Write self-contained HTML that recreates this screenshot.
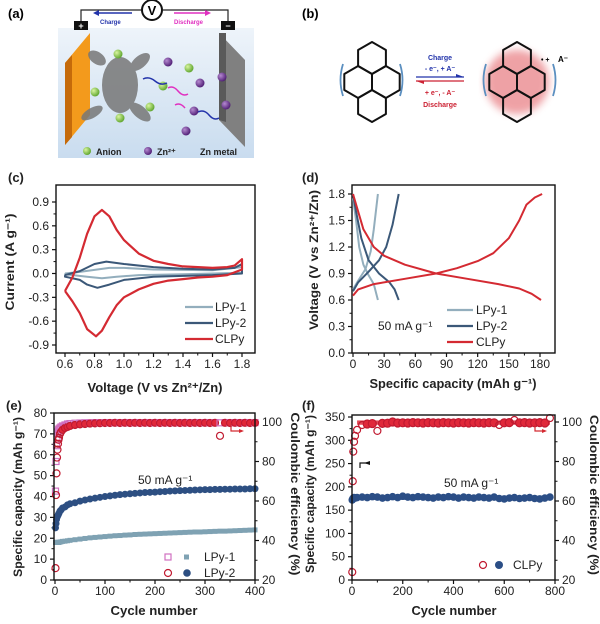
<!DOCTYPE html>
<html><head><meta charset="utf-8">
<style>
html,body{margin:0;padding:0;background:#fff;}
svg{display:block;font-family:"Liberation Sans",Arial,sans-serif;}
</style></head>
<body>
<svg id="fig" width="600" height="624" viewBox="0 0 600 624" xmlns="http://www.w3.org/2000/svg">
<defs>
<linearGradient id="bg" x1="0" y1="0" x2="0" y2="1"><stop offset="0" stop-color="#eef4fa"/><stop offset="1" stop-color="#c9dcef"/></linearGradient>
<radialGradient id="gball" cx="0.35" cy="0.35" r="0.7"><stop offset="0" stop-color="#d9f5a0"/><stop offset="1" stop-color="#5aa22a"/></radialGradient>
<radialGradient id="pball" cx="0.35" cy="0.35" r="0.7"><stop offset="0" stop-color="#b58ad0"/><stop offset="1" stop-color="#4c1a72"/></radialGradient>
<filter id="glow"><feGaussianBlur stdDeviation="4"/></filter>
</defs>

<!-- Panel (a) -->
<g>
<text x="8" y="18" font-size="13" font-weight="bold">(a)</text>
<rect x="58" y="28" width="196" height="130" fill="url(#bg)"/>
<polyline points="81,23 81,10 141,10" fill="none" stroke="#222" stroke-width="1.2"/>
<polyline points="163,10 228,10 228,23" fill="none" stroke="#222" stroke-width="1.2"/>
<circle cx="152" cy="10" r="10" fill="#fff" stroke="#111" stroke-width="2"/>
<text x="152" y="15" font-size="13" font-weight="bold" text-anchor="middle">V</text>
<rect x="74" y="21" width="14" height="9" fill="#111"/>
<text x="81" y="29" font-size="9" fill="#fff" text-anchor="middle" font-weight="bold">+</text>
<rect x="221" y="21" width="14" height="9" fill="#111"/>
<text x="228" y="29" font-size="9" fill="#fff" text-anchor="middle" font-weight="bold">−</text>
<line x1="132" y1="13" x2="96" y2="13" stroke="#2233aa" stroke-width="1.5"/><polygon points="93,13 99,10 99,16" fill="#2233aa"/>
<text x="100" y="24" font-size="6" fill="#2233aa" font-weight="bold">Charge</text>
<line x1="174" y1="13" x2="208" y2="13" stroke="#e030c0" stroke-width="1.5"/><polygon points="211,13 205,10 205,16" fill="#e030c0"/>
<text x="174" y="24" font-size="6" fill="#e030c0" font-weight="bold">Discharge</text>
<polygon points="65,63 90,33 90,115 65,145" fill="#f39a1c"/>
<polygon points="65,63 72,55 72,137 65,145" fill="#c56a0a"/>
<polygon points="219,33 245,60 245,147 219,120" fill="#808080"/>
<polygon points="219,33 226,33 226,122 219,120" fill="#5a5a5a"/>
<g fill="#777" opacity="0.85">
<ellipse cx="120" cy="85" rx="18" ry="28"/><ellipse cx="97" cy="58" rx="10" ry="6" transform="rotate(35 97 58)"/>
<ellipse cx="140" cy="62" rx="12" ry="6" transform="rotate(-40 140 62)"/><ellipse cx="92" cy="113" rx="12" ry="5" transform="rotate(-30 92 113)"/>
<ellipse cx="140" cy="112" rx="13" ry="6" transform="rotate(40 140 112)"/>
</g>
<g>
<circle cx="118" cy="54" r="4.5" fill="url(#gball)"/><circle cx="95" cy="92" r="4.5" fill="url(#gball)"/><circle cx="163" cy="86" r="4.5" fill="url(#gball)"/>
<circle cx="150" cy="107" r="4.5" fill="url(#gball)"/><circle cx="120" cy="118" r="4.5" fill="url(#gball)"/><circle cx="189" cy="68" r="4.5" fill="url(#gball)"/>
<circle cx="168" cy="62" r="4.5" fill="url(#pball)"/><circle cx="200" cy="83" r="4.5" fill="url(#pball)"/><circle cx="194" cy="111" r="4.5" fill="url(#pball)"/>
<circle cx="186" cy="131" r="4.5" fill="url(#pball)"/><circle cx="222" cy="77" r="4.5" fill="url(#pball)"/><circle cx="226" cy="105" r="4.5" fill="url(#pball)"/>
</g>
<path d="M143,79 q6,-3 12,2 t12,2" fill="none" stroke="#2233aa" stroke-width="1.5"/>
<path d="M168,88 q5,-3 10,3 t10,3" fill="none" stroke="#e030c0" stroke-width="1.5"/>
<path d="M175,105 q5,-3 10,3" fill="none" stroke="#e030c0" stroke-width="1.5"/>
<path d="M198,112 q6,-3 11,3 t10,3" fill="none" stroke="#2233aa" stroke-width="1.5"/>
<circle cx="87" cy="151" r="4" fill="url(#gball)"/><text x="96" y="155" font-size="9" font-weight="bold" fill="#222">Anion</text>
<circle cx="148" cy="151" r="4" fill="url(#pball)"/><text x="157" y="155" font-size="9" font-weight="bold" fill="#222">Zn²⁺</text>
<text x="200" y="155" font-size="9" font-weight="bold" fill="#222">Zn metal</text>
</g>

<!-- Panel (b) -->
<g>
<text x="302" y="18" font-size="13" font-weight="bold">(b)</text>
<circle cx="517" cy="82" r="32" fill="#e87a80" opacity="0.7" filter="url(#glow)"/>
<g id="pyrL"></g>
<g id="pyrR"></g>
<g fill="none" stroke="#5b8fc0" stroke-width="1.8">
<path d="M343,64 q-5,16 0,32"/><path d="M400,64 q5,16 0,32"/><path d="M486,64 q-5,16 0,32"/><path d="M553,64 q5,16 0,32"/>
</g>
<text x="541" y="62" font-size="7" font-weight="bold">• +</text>
<text x="558" y="62" font-size="8" font-weight="bold">A⁻</text>
<text x="440" y="60" font-size="7" font-weight="bold" fill="#2233aa" text-anchor="middle">Charge</text>
<text x="440" y="71" font-size="7" font-weight="bold" fill="#2233aa" text-anchor="middle">- e⁻,  + A⁻</text>
<line x1="416" y1="77" x2="464" y2="77" stroke="#2233aa" stroke-width="1.3"/><polygon points="464,77 456,74 456,77" fill="#2233aa"/>
<line x1="416" y1="81" x2="464" y2="81" stroke="#cc2233" stroke-width="1.3"/><polygon points="416,81 424,84 424,81" fill="#cc2233"/>
<text x="440" y="95" font-size="7" font-weight="bold" fill="#cc2233" text-anchor="middle">+ e⁻, - A⁻</text>
<text x="440" y="107" font-size="7" font-weight="bold" fill="#cc2233" text-anchor="middle">Discharge</text>
</g>

<g id="charts"></g>
</svg>
<script>
// ---------- DATA ----------
const cvV_CLPy = [0.6,0.65,0.7,0.75,0.8,0.85,0.9,0.95,1.0,1.1,1.2,1.3,1.4,1.5,1.6,1.7,1.75,1.8,1.8,1.7,1.6,1.5,1.4,1.3,1.2,1.1,1.0,0.95,0.9,0.85,0.81,0.75,0.7,0.65,0.6];
const cvI_CLPy = [-0.22,-0.05,0.2,0.5,0.72,0.8,0.72,0.55,0.42,0.25,0.16,0.12,0.09,0.08,0.07,0.08,0.1,0.18,0.05,-0.02,-0.04,-0.05,-0.07,-0.09,-0.13,-0.2,-0.3,-0.4,-0.55,-0.72,-0.79,-0.7,-0.5,-0.35,-0.22];
const cvV_LPy2 = [0.6,0.7,0.8,0.88,1.0,1.2,1.4,1.6,1.75,1.8,1.8,1.6,1.4,1.2,1.0,0.9,0.82,0.75,0.7,0.6,0.6];
const cvI_LPy2 = [-0.02,0.03,0.12,0.15,0.12,0.08,0.06,0.05,0.07,0.12,0.0,-0.02,-0.03,-0.04,-0.08,-0.14,-0.18,-0.14,-0.08,-0.04,-0.02];
const cvV_LPy1 = [0.6,0.7,0.9,1.0,1.2,1.6,1.8,1.8,1.4,1.1,0.95,0.85,0.75,0.6,0.6];
const cvI_LPy1 = [0.0,0.02,0.07,0.07,0.05,0.04,0.08,0.01,-0.01,-0.02,-0.04,-0.06,-0.04,-0.01,0.0];
const cvXTicks = [0.6,0.8,1.0,1.2,1.4,1.6,1.8];
const cvYTicks = [-0.9,-0.6,-0.3,0.0,0.3,0.6,0.9];

const gcdChgCap_CLPy = [0,5,20,50,80,100,120,135,150,160,167,175,182];
const gcdChgV_CLPy = [0.65,0.72,0.78,0.84,0.9,0.96,1.04,1.13,1.3,1.5,1.68,1.76,1.8];
const gcdDisCap_CLPy = [0,5,10,20,30,50,80,110,140,160,172,181];
const gcdDisV_CLPy = [1.8,1.6,1.4,1.2,1.1,1.0,0.9,0.84,0.78,0.73,0.67,0.6];
const gcdChgCap_LPy2 = [0,5,15,25,32,38,44];
const gcdChgV_LPy2 = [0.7,0.8,0.92,1.05,1.2,1.45,1.8];
const gcdDisCap_LPy2 = [0,3,8,15,25,35,40,44];
const gcdDisV_LPy2 = [1.8,1.6,1.3,1.05,0.9,0.8,0.72,0.6];
const gcdChgCap_LPy1 = [0,5,12,17,20,24];
const gcdChgV_LPy1 = [0.72,0.82,0.95,1.15,1.4,1.8];
const gcdDisCap_LPy1 = [0,3,6,10,15,20,24];
const gcdDisV_LPy1 = [1.75,1.5,1.2,1.0,0.88,0.78,0.6];
const gcdXTicks = [0,30,60,90,120,150,180];
const gcdYTicks = [0.0,0.3,0.6,0.9,1.2,1.5,1.8];

const eCycles = [1,2,3,4,5,6,7,8,10,12,15,20,25,30,40,50,60,70,80,90,100,110,120,130,140,150,160,170,180,190,200,210,220,230,240,250,260,270,280,290,300,310,320,330,340,350,360,370,380,390,400];
const eCapLPy2 = [25,27,29,30,30.5,31,31.5,32,33,33.5,34.5,35,36,36.5,37,37.8,38.3,38.8,39.2,39.6,40,40.3,40.6,40.9,41.1,41.3,41.5,41.7,41.9,42,42.1,42.3,42.4,42.6,42.7,42.8,42.9,43,43.1,43.2,43.3,43.3,43.4,43.4,43.5,43.5,43.6,43.6,43.6,43.7,43.7];
const eCapLPy1 = [18,18,18,18,18,18,18,18,18.2,18.3,18.5,18.6,18.8,19,19.3,19.6,19.9,20.2,20.4,20.6,20.8,21,21.2,21.3,21.5,21.6,21.8,21.9,22,22.1,22.2,22.3,22.4,22.5,22.6,22.7,22.8,22.9,23,23,23.1,23.2,23.3,23.4,23.4,23.5,23.6,23.7,23.8,23.9,24];
const eCELPy2 = [26,63,74,82,86,89,91,92,94,95,96,97,97.5,98,98.5,98.8,99,99.2,99.3,99.4,99.5,99.5,99.6,99.5,99.6,99.5,99.6,99.5,99.6,99.5,99.6,99.5,99.6,99.5,99.6,99.5,99.6,99.5,99.6,99.5,99.6,99.5,99.6,93,99.6,99.5,99.6,99.5,99.6,99.5,99.6];
const eCELPy1 = [65,80,88,92,94,95,96,96.5,97,97.5,98,98.5,99,99.2,99.4,99.5,99.6,99.6,99.7,99.6,99.7,99.6,99.7,99.6,99.7,99.6,99.7,99.6,99.7,99.6,99.7,99.6,99.7,99.6,99.7,99.6,99.7,99.6,99.7,99.6,99.7,99.6,99.7,99.6,99.7,99.6,99.7,99.6,99.7,99.6,99.7];
const eXTicks = [0,100,200,300,400];
const eYTicks = [0,10,20,30,40,50,60,70,80];
const eY2Ticks = [20,40,60,80,100];

const fCycles = [1,3,5,8,12,20,40,60,80,100,120,140,160,180,200,220,240,260,280,300,320,340,360,380,400,420,440,460,480,500,520,540,560,580,600,620,640,660,680,700,720,740,760,780];
const fCap = [172,174,176,177,176,177,178,177,179,178,176,177,179,177,180,178,177,179,178,177,176,178,177,179,178,176,178,177,176,178,177,176,178,175,174,176,177,175,176,177,175,174,176,178];
const fCE = [24,70,85,90,93,96,98.5,99,99.2,95.5,99.3,99.4,100,99.5,99.6,99.5,99.7,99.6,99.5,99.7,99.6,99.5,99.7,99.6,99.5,99.7,99.6,99.5,99.7,99.6,99.5,99.7,99.6,98.5,99.6,99.7,101,99.6,99.7,99.5,99.6,99.7,99.5,102];
const fXTicks = [0,200,400,600,800];
const fYTicks = [0,50,100,150,200,250,300,350];
const fY2Ticks = [20,40,60,80,100];

// ---------- HELPERS ----------
const NS = 'http://www.w3.org/2000/svg';
const root = document.getElementById('charts');
function mk(tag, attrs, parent){const e=document.createElementNS(NS,tag);for(const k in attrs)e.setAttribute(k,attrs[k]);(parent||root).appendChild(e);return e;}
function scale(d0,d1,r0,r1){return v=>r0+(v-d0)*(r1-r0)/(d1-d0);}
function txt(x,y,s,size,anchor,parent,extra){const t=mk('text',Object.assign({x:x,y:y,'font-size':size,'text-anchor':anchor||'start','font-weight':'bold',fill:'#222'},extra||{}),parent);t.textContent=s;return t;}

function frame(g,L,T,R,B){
  const r=mk('rect',{x:L,y:T,width:R-L,height:B-T,fill:'none',stroke:'#111','stroke-width':1.4},g);
  
  
}
function xAxis(g,xs,ticks,B,fmt,minor){
  ticks.forEach((t,i)=>{const x=xs(t);
    mk('line',{x1:x,y1:B,x2:x,y2:B+4,stroke:'#111','stroke-width':1.2},g);
    const l=txt(x,B+15,fmt(t),12,'middle',g,{'font-weight':'normal'});
    
    
    if(minor&&i<ticks.length-1){const m=xs((t+ticks[i+1])/2);mk('line',{x1:m,y1:B,x2:m,y2:B+2.5,stroke:'#111','stroke-width':1},g);}
  });
}
function yAxis(g,ys,ticks,L,fmt,right){
  ticks.forEach((t,i)=>{const y=ys(t);const d=right?1:-1;
    mk('line',{x1:L,y1:y,x2:L+4*d,y2:y,stroke:'#111','stroke-width':1.2},g);
    const l=txt(L+7*d,y+4,fmt(t),12,right?'start':'end',g,{'font-weight':'normal'});
    
    
    if(i<ticks.length-1){const m=ys((t+ticks[i+1])/2);mk('line',{x1:L,y1:m,x2:L+2.5*d,y2:m,stroke:'#111','stroke-width':1},g);}
  });
}
function line(g,xs,ys,X,Y,color,w){
  const pts=X.map((v,i)=>xs(v).toFixed(1)+','+ys(Y[i]).toFixed(1)).join(' ');
  return mk('polyline',{points:pts,fill:'none',stroke:color,'stroke-width':w||2,'stroke-linejoin':'round'},g);
}
function rotTitle(g,x,y,s,deg,len){
  const t=txt(x,y,s,12,'middle',g,{transform:`rotate(${deg} ${x} ${y})`,textLength:len,lengthAdjust:'spacingAndGlyphs'});
  
  
  return t;
}
function xTitle(g,x,y,s,len){
  const t=txt(x,y,s,13,'middle',g,{textLength:len,lengthAdjust:'spacingAndGlyphs'});
  
  
  return t;
}

// ---------- PANEL C ----------
(function(){
  const g=mk('g',{});
  
  
  const L=56,T=185,R=255,B=353;
  const xs=scale(0.6,1.8,65,242), ys=scale(-0.9,0.9,345,202);
  txt(8,182,'(c)',13,'start',g);
  frame(g,L,T,R,B);
  xAxis(g,xs,cvXTicks,B,v=>v.toFixed(1),true);
  yAxis(g,ys,cvYTicks,L,v=>v.toFixed(1),false);
  const s1=line(g,xs,ys,cvV_LPy1,cvI_LPy1,'#93aebd',2);
  
  
  const s2=line(g,xs,ys,cvV_LPy2,cvI_LPy2,'#3b5878',2);
  
  
  const s3=line(g,xs,ys,cvV_CLPy,cvI_CLPy,'#d42a32',2.2);
  
  
  [['LPy-1','#93aebd'],['LPy-2','#3b5878'],['CLPy','#d42a32']].forEach((e,i)=>{
    const y=307+i*16;
    const lg=mk('line',{x1:185,y1:y,x2:213,y2:y,stroke:e[1],'stroke-width':2.2},g);
    
    
    txt(215,y+4,e[0],12,'start',g,{'font-weight':'normal'});
  });
  rotTitle(g,14,262,'Current (A g⁻¹)',-90,97);
  xTitle(g,155,392,'Voltage (V vs Zn²⁺/Zn)',135);
})();

// ---------- PANEL D ----------
(function(){
  const g=mk('g',{});
  
  
  const L=352,T=185,R=555,B=353;
  const xs=scale(0,180,353,540), ys=scale(0,1.8,353,194);
  txt(302,182,'(d)',13,'start',g);
  frame(g,L,T,R,B);
  xAxis(g,xs,gcdXTicks,B,v=>String(v),true);
  yAxis(g,ys,gcdYTicks,L,v=>v.toFixed(1),false);
  [[gcdChgCap_LPy1,gcdChgV_LPy1,'#93aebd','lpy1-charge'],[gcdDisCap_LPy1,gcdDisV_LPy1,'#93aebd','lpy1-discharge'],
   [gcdChgCap_LPy2,gcdChgV_LPy2,'#3b5878','lpy2-charge'],[gcdDisCap_LPy2,gcdDisV_LPy2,'#3b5878','lpy2-discharge'],
   [gcdChgCap_CLPy,gcdChgV_CLPy,'#d42a32','clpy-charge'],[gcdDisCap_CLPy,gcdDisV_CLPy,'#d42a32','clpy-discharge']].forEach(s=>{
    const p=line(g,xs,ys,s[0],s[1],s[2],2);
    
    
  });
  [['LPy-1','#93aebd'],['LPy-2','#3b5878'],['CLPy','#d42a32']].forEach((e,i)=>{
    const y=310+i*16;
    const lg=mk('line',{x1:447,y1:y,x2:473,y2:y,stroke:e[1],'stroke-width':2.2},g);
    
    
    txt(476,y+4,e[0],12,'start',g,{'font-weight':'normal'});
  });
  txt(378,330,'50 mA g⁻¹',12,'start',g,{'font-weight':'normal'});
  rotTitle(g,318,260,'Voltage (V vs Zn²⁺/Zn)',-90,140);
  xTitle(g,453,388,'Specific capacity (mAh g⁻¹)',167);
})();

// ---------- PANEL E ----------
(function(){
  const g=mk('g',{});
  
  
  const L=54,T=413,R=255,B=580;
  const xs=scale(0,400,55,255), ys=scale(0,80,580,413), y2=scale(20,100,580,422);
  txt(6,410,'(e)',13,'start',g);
  xAxis(g,xs,eXTicks,B,v=>String(v),true);
  yAxis(g,ys,eYTicks,L,v=>String(v),false);
  yAxis(g,y2,eY2Ticks,R,v=>String(v),true);
  eCycles.forEach((c,i)=>{
    const a=mk('rect',{x:xs(c)-2.5,y:ys(eCapLPy1[i])-2.5,width:5,height:5,fill:'#7fa2b3'},g);
    
    
    const b=mk('circle',{cx:xs(c),cy:ys(eCapLPy2[i]),r:3.5,fill:'#2d4f82'},g);
    
    
    const p=mk('rect',{x:xs(c)-3,y:y2(eCELPy1[i])-3,width:6,height:6,fill:'none',stroke:'#d070c0','stroke-width':1.2},g);
    
    
    const q=mk('circle',{cx:xs(c),cy:y2(eCELPy2[i]),r:3.5,fill:'#e0283a',stroke:'#c01a30','stroke-width':1.2,'fill-opacity':eCELPy2[i]<96?0:1},g);
    
    
  });
  frame(g,L,T,R,B);
  mk('polyline',{points:'231,423 231,431 242,431',fill:'none',stroke:'#d42a32','stroke-width':1.2},g);
  mk('polygon',{points:'244,431 239,429 239,433',fill:'#d42a32'},g);
  txt(138,484,'50 mA g⁻¹',12,'start',g,{'font-weight':'normal'});
  const leg=[[557,'rect','#d070c0','#7fa2b3','LPy-1'],[573,'circle','#c01a30','#2d4f82','LPy-2']];
  leg.forEach(e=>{
    if(e[1]==='rect'){mk('rect',{x:165,y:e[0]-3,width:6,height:6,fill:'none',stroke:e[2],'stroke-width':1.2},g);mk('rect',{x:184,y:e[0]-2.5,width:5,height:5,fill:e[3]},g);}
    else{mk('circle',{cx:168,cy:e[0],r:3.5,fill:'none',stroke:e[2],'stroke-width':1.2},g);mk('circle',{cx:187,cy:e[0],r:3.8,fill:e[3]},g);}
    const t=txt(204,e[0]+4,e[4],12,'start',g,{'font-weight':'normal'});
    
    
  });
  rotTitle(g,22,497,'Specific capacity (mAh g⁻¹)',-90,160);
  rotTitle(g,291,494,'Coulombic efficiency (%)',90,163);
  xTitle(g,154,615,'Cycle number',87);
})();

// ---------- PANEL F ----------
(function(){
  const g=mk('g',{});
  
  
  const L=352,T=415,R=555,B=580;
  const xs=scale(0,800,352,555), ys=scale(0,350,580,417), y2=scale(20,100,580,422);
  txt(302,410,'(f)',13,'start',g);
  xAxis(g,xs,fXTicks,B,v=>String(v),true);
  yAxis(g,ys,fYTicks,L,v=>String(v),false);
  yAxis(g,y2,fY2Ticks,R,v=>String(v),true);
  mk('rect',{x:xs(20),y:y2(100.8),width:xs(780)-xs(20),height:y2(98.6)-y2(100.8),fill:'#e0283a',opacity:0.85},g);
  mk('rect',{x:xs(5),y:ys(181),width:xs(785)-xs(5),height:ys(172)-ys(181),fill:'#2b4e86',opacity:0.85},g);
  fCycles.forEach((c,i)=>{
    const b=mk('circle',{cx:xs(c),cy:ys(fCap[i]),r:3.8,fill:'#2b4e86'},g);
    
    
    const off=Math.abs(fCE[i]-99.6)>0.8;
    const q=mk('circle',{cx:xs(c),cy:y2(fCE[i]),r:off?3.5:4,fill:off?'none':'#e0283a',stroke:'#c01a30','stroke-width':1.2},g);
    
    
  });
  frame(g,L,T,R,B);
  mk('polyline',{points:'370,463 360,463 360,468',fill:'none',stroke:'#111','stroke-width':1.2},g);
  mk('polygon',{points:'364,463 370,461 370,465',fill:'#111'},g);
  mk('polyline',{points:'535,425 535,431 545,431',fill:'none',stroke:'#d42a32','stroke-width':1.2},g);
  mk('polygon',{points:'547,431 542,429 542,433',fill:'#d42a32'},g);
  txt(444,487,'50 mA g⁻¹',12,'start',g,{'font-weight':'normal'});
  mk('circle',{cx:483,cy:565,r:3.5,fill:'none',stroke:'#c01a30','stroke-width':1.2},g);
  mk('circle',{cx:499,cy:565,r:4,fill:'#2b4e86'},g);
  const t=txt(513,569,'CLPy',12,'start',g,{'font-weight':'normal'});
  
  
  rotTitle(g,314,494,'Specific capacity (mAh g⁻¹)',-90,158);
  rotTitle(g,590,495,'Coulombic efficiency (%)',90,160);
  xTitle(g,454,615,'Cycle number',85);
})();

// ---------- PYRENE STRUCTURES ----------
function pyrene(gid,cx,cy,s){
  const g=document.getElementById(gid);
  const w=s*Math.sqrt(3)/2;
  const centers=[[0,-1.5*s],[-w,0],[w,0],[0,1.5*s]];
  centers.forEach(c=>{
    const pts=[];
    for(let k=0;k<6;k++){const a=Math.PI/180*(60*k-90);pts.push((cx+c[0]+s*Math.cos(a)).toFixed(1)+','+(cy+c[1]+s*Math.sin(a)).toFixed(1));}
    mk('polygon',{points:pts.join(' '),fill:'none',stroke:'#111','stroke-width':2,'stroke-linejoin':'round'},g);
  });
}
pyrene('pyrL',372,82,16);
pyrene('pyrR',517,82,16);
</script>
</body></html>
